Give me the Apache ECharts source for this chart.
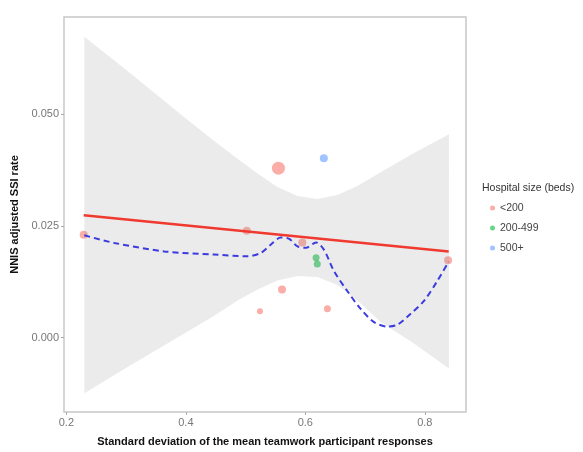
<!DOCTYPE html>
<html>
<head>
<meta charset="utf-8">
<script src="https://cdn.jsdelivr.net/npm/echarts@6/dist/echarts.min.js"></script>
<style>
    html, body { margin: 0; padding: 0; background: #fff; }
    #chart { width: 583px; height: 452px; }
</style>
</head>
<body>
<div id="chart"></div>
<script>
// hospitals: x = SD of teamwork responses, y = NNIS adjusted SSI rate
const pointX = [0.229, 0.555, 0.631, 0.502, 0.595, 0.618, 0.620, 0.561, 0.524, 0.637, 0.839];
const pointY = [0.0230, 0.0379, 0.0401, 0.0239, 0.0213, 0.0179, 0.0165, 0.0108, 0.0059, 0.0065, 0.0173];
const pointSize = [8, 13, 8, 8, 8, 7, 7, 8, 6, 7, 8];
const pointGroup = ['<200', '<200', '500+', '<200', '<200', '200-499', '200-499', '<200', '<200', '<200', '<200'];

const groups = ['<200', '200-499', '500+'];
const groupColors = ['#F8766D', '#00BA38', '#619CFF'];

// linear fit end points
const fitX = [0.229, 0.840];
const fitY = [0.0274, 0.0193];

// confidence band of the linear fit
const bandUpperX = [0.2301, 0.3081, 0.3917, 0.4475, 0.4865, 0.5200, 0.5534, 0.5868, 0.6203, 0.6537, 0.6872, 0.7262, 0.7819, 0.8405];
const bandUpper = [0.0673, 0.0590, 0.0499, 0.0440, 0.0400, 0.0367, 0.0337, 0.0317, 0.0310, 0.0319, 0.0339, 0.0370, 0.0413, 0.0455];
const bandLowerX = bandUpperX;
const bandLower = [-0.0124, -0.0061, 0.0005, 0.0049, 0.0083, 0.0108, 0.0128, 0.0138, 0.0136, 0.0118, 0.0083, 0.0035, -0.0013, -0.0069];

// loess curve
const loessX = [0.230, 0.280, 0.364, 0.447, 0.503, 0.526, 0.542, 0.559, 0.573, 0.587, 0.601, 0.618, 0.631, 0.648, 0.670, 0.693, 0.715, 0.737, 0.754, 0.776, 0.799, 0.821, 0.840];
const loessY = [0.0229, 0.0212, 0.0193, 0.0186, 0.0182, 0.0190, 0.0208, 0.0224, 0.0221, 0.0204, 0.0201, 0.0213, 0.0197, 0.0149, 0.0105, 0.0064, 0.0035, 0.0025, 0.0029, 0.0053, 0.0083, 0.0127, 0.0170];

const xTicks = [0.2, 0.4, 0.6, 0.8];
const yTicks = [0, 0.025, 0.05];

const font = "'Liberation Sans', Arial, sans-serif";
const chart = echarts.init(document.getElementById('chart'));

const scatterSeries = groups.map(function (g, gi) {
    const data = [];
    for (let i = 0; i < pointX.length; i++) {
        if (pointGroup[i] === g) data.push([pointX[i], pointY[i], pointSize[i]]);
    }
    return {
        name: g,
        type: 'scatter',
        z: 2,
        data: data,
        symbolSize: function (v) { return v[2]; },
        itemStyle: { color: groupColors[gi], opacity: 0.6 },
        silent: true
    };
});

chart.setOption({
    animation: false,
    backgroundColor: '#fff',
    title: {
        text: 'Hospital size (beds)',
        left: 482,
        top: 183,
        padding: 0,
        textStyle: { fontFamily: font, fontSize: 10.5, fontWeight: 'normal', color: '#333' }
    },
    legend: {
        data: groups,
        orient: 'vertical',
        left: 490,
        top: 202,
        padding: 0,
        itemWidth: 5,
        itemHeight: 5,
        itemGap: 8,
        icon: 'circle',
        itemStyle: { opacity: 0.6 },
        textStyle: { fontFamily: font, fontSize: 10.5, color: '#444', lineHeight: 12 }
    },
    grid: {
        left: 64, right: 117, top: 17, bottom: 36,
        show: true,
        backgroundColor: '#fff',
        borderColor: '#c8c8c8',
        borderWidth: 1.5
    },
    xAxis: {
        type: 'value',
        min: 0.196,
        max: 0.869,
        name: 'Standard deviation of the mean teamwork participant responses',
        nameLocation: 'middle',
        nameGap: 24,
        nameTextStyle: { fontFamily: font, fontSize: 11, fontWeight: 'bold', color: '#111' },
        axisLine: { show: false, onZero: false },
        splitLine: { show: false },
        axisTick: { show: true, length: 3, customValues: xTicks, lineStyle: { color: '#aaa' } },
        axisLabel: {
            customValues: xTicks,
            margin: 5,
            fontFamily: font, fontSize: 11, color: '#777',
            formatter: function (v) { return v.toFixed(1); }
        }
    },
    yAxis: {
        type: 'value',
        min: -0.0166,
        max: 0.0717,
        name: 'NNIS adjusted SSI rate',
        nameLocation: 'middle',
        nameGap: 38,
        nameTextStyle: { fontFamily: font, fontSize: 11, fontWeight: 'bold', color: '#111' },
        axisLine: { show: false, onZero: false },
        splitLine: { show: false },
        axisTick: { show: true, length: 3, customValues: yTicks, lineStyle: { color: '#aaa' } },
        axisLabel: {
            customValues: yTicks,
            margin: 5,
            fontFamily: font, fontSize: 11, color: '#777',
            formatter: function (v) { return v.toFixed(3); }
        }
    },
    series: scatterSeries.concat([
        {
            name: 'band',
            type: 'custom',
            z: 3,
            silent: true,
            data: [[bandUpperX[0], bandUpper[0]]],
            renderItem: function (params, api) {
                const pts = [];
                for (let i = 0; i < bandUpperX.length; i++) {
                    pts.push(api.coord([bandUpperX[i], bandUpper[i]]));
                }
                for (let i = bandLowerX.length - 1; i >= 0; i--) {
                    pts.push(api.coord([bandLowerX[i], bandLower[i]]));
                }
                return {
                    type: 'polygon',
                    shape: { points: pts },
                    style: { fill: 'rgba(153,153,153,0.2)' }
                };
            }
        },
        {
            name: 'lm',
            type: 'line',
            z: 4,
            silent: true,
            showSymbol: false,
            data: fitX.map(function (x, i) { return [x, fitY[i]]; }),
            lineStyle: { color: '#f0392f', width: 2.5 }
        },
        {
            name: 'loess',
            type: 'line',
            z: 5,
            silent: true,
            showSymbol: false,
            smooth: 0.3,
            data: loessX.map(function (x, i) { return [x, loessY[i]]; }),
            lineStyle: { color: '#3b3be0', width: 2, type: [6, 4] }
        }
    ])
});
</script>
</body>
</html>
